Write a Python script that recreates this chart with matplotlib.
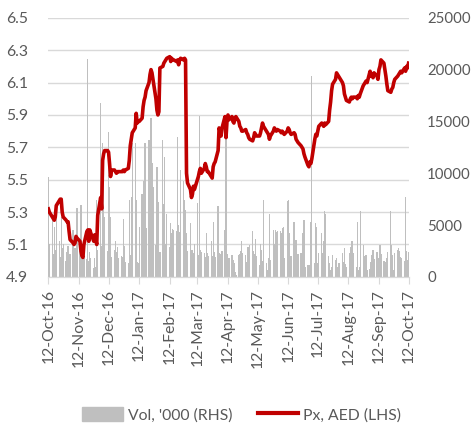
import pandas as pd
import matplotlib
matplotlib.use("Agg")
import matplotlib.pyplot as plt
import matplotlib.dates as mdates
from matplotlib.patches import Patch
from matplotlib.lines import Line2D

plt.rcParams['font.family'] = ['Lato', 'DejaVu Sans']

# trading days (Sun-Thu) from 12-Oct-16 to 12-Oct-17
dates = pd.bdate_range('2016-10-12', '2017-10-12', freq='C', weekmask='Sun Mon Tue Wed Thu')

# price, AED (one row per week)
px = [
    5.32, 5.30,
    5.27, 5.26, 5.25, 5.27, 5.34,
    5.37, 5.38, 5.38, 5.30, 5.27,
    5.25, 5.24, 5.24, 5.18, 5.13,
    5.11, 5.10, 5.11, 5.15, 5.14,
    5.12, 5.06, 5.03, 5.02, 5.10,
    5.18, 5.19, 5.12, 5.19, 5.17,
    5.12, 5.16, 5.13, 5.10, 5.28,
    5.39, 5.32, 5.62, 5.66, 5.68,
    5.68, 5.67, 5.60, 5.52, 5.56,
    5.56, 5.55, 5.54, 5.55, 5.55,
    5.55, 5.55, 5.56, 5.55, 5.56,
    5.57, 5.62, 5.71, 5.75, 5.79,
    5.82, 5.91, 5.85, 5.86, 5.86,
    5.88, 5.95, 5.99, 6.01, 6.05,
    6.10, 6.15, 6.18, 6.16, 6.12,
    6.00, 5.93, 5.90, 5.92, 6.19,
    6.20, 6.22, 6.23, 6.24, 6.25,
    6.26, 6.23, 6.25, 6.24, 6.24,
    6.23, 6.24, 6.21, 6.24, 6.25,
    6.24, 6.25, 6.24, 5.54, 5.48,
    5.44, 5.39, 5.41, 5.46, 5.44,
    5.50, 5.52, 5.55, 5.57, 5.54,
    5.57, 5.60, 5.58, 5.55, 5.55,
    5.52, 5.51, 5.58, 5.60, 5.61,
    5.68, 5.82, 5.80, 5.77, 5.82,
    5.89, 5.76, 5.86, 5.90, 5.87,
    5.89, 5.86, 5.85, 5.88, 5.89,
    5.86, 5.83, 5.82, 5.80, 5.80,
    5.81, 5.79, 5.78, 5.76, 5.75,
    5.74, 5.76, 5.79, 5.78, 5.77,
    5.77, 5.79, 5.82, 5.85, 5.83,
    5.80, 5.79, 5.78, 5.75, 5.77,
    5.80, 5.82, 5.81, 5.80, 5.81,
    5.80, 5.79, 5.80, 5.79, 5.78,
    5.80, 5.82, 5.81, 5.79, 5.78,
    5.79, 5.78, 5.75, 5.74, 5.73,
    5.71, 5.70, 5.69, 5.66, 5.64,
    5.59, 5.58, 5.61, 5.60, 5.63,
    5.75, 5.78, 5.77, 5.80, 5.83,
    5.85, 5.84, 5.83, 5.85, 5.84,
    5.86, 5.93, 5.98, 6.05, 6.09,
    6.12, 6.16, 6.15, 6.14, 6.13,
    6.10, 6.08, 6.03, 6.01, 5.99,
    5.98, 6.00, 6.01, 6.00, 6.01,
    6.01, 6.00, 6.02, 6.01, 6.03,
    6.08, 6.09, 6.10, 6.11, 6.10,
    6.17, 6.14, 6.15, 6.13, 6.16,
    6.14, 6.12, 6.18, 6.20, 6.24,
    6.22, 6.18, 6.14, 6.09, 6.05,
    6.04, 6.06, 6.07, 6.10, 6.12,
    6.14, 6.15, 6.16, 6.17, 6.16,
    6.19, 6.17, 6.20, 6.19, 6.22,
]

# volume, '000
vol = [
    9600, 3200,
    5500, 2200, 4800, 2600, 5800,
    3500, 1900, 5800, 2800, 3200,
    1500, 2400, 3000, 1800, 2200,
    4500, 1500, 2800, 1200, 6600,
    2500, 6900, 1500, 2200, 2800,
    1700, 21000, 1500, 2400, 1800,
    900, 1800, 1000, 7400, 2600,
    16800, 3000, 12900, 11000, 5800,
    2500, 14000, 8700, 5800, 1900,
    2600, 3500, 2400, 2900, 1800,
    2000, 1900, 5600, 3000, 1400,
    1300, 7400, 2100, 7700, 12900,
    12900, 7400, 1400, 1300, 4800,
    8000, 6200, 9300, 12900, 4700,
    13200, 9000, 15300, 11000, 8700,
    3100, 10600, 7200, 300, 2400,
    13200, 7000, 11600, 3200, 6100,
    2900, 5200, 4200, 4600, 4500,
    4400, 13500, 5000, 4300, 10300,
    9300, 7400, 6500, 4200, 2500,
    5200, 2600, 2600, 2300, 3200,
    7100, 2100, 15500, 2600, 2400,
    2300, 1900, 4200, 2300, 2000,
    3500, 2000, 5300, 2400, 1900,
    6800, 2300, 2200, 1500, 2500,
    4500, 15300, 2200, 1600, 1800,
    2100, 1600, 1300, 500, 200,
    2100, 2200, 2500, 3500, 2300,
    2100, 1400, 2900, 2900, 3100,
    4400, 2500, 2200, 3700, 2000,
    1100, 3200, 2600, 1500, 7400,
    1300, 700, 1800, 6100, 1600,
    4500, 3200, 4500, 4300, 4400,
    4400, 4200, 4700, 4800, 1800,
    7300, 7400, 4200, 1800, 2000,
    5300, 2200, 3600, 1000, 2200,
    2300, 1000, 4200, 5500, 1000,
    1100, 1000, 1100, 5300, 19400,
    1300, 5200, 4800, 1300, 2300,
    4200, 2300, 3500, 6400, 6100,
    2000, 1300, 700, 1000, 2100,
    1600, 1800, 1000, 1300, 1300,
    2300, 1400, 2800, 1200, 1000,
    2300, 2900, 3500, 3500, 2300,
    1000, 5300, 700, 1000, 6400,
    3100, 2000, 1900, 2100, 700,
    800, 1400, 2100, 2600, 1700,
    2400, 800, 1800, 3100, 2200,
    1500, 1200, 1400, 1800, 2400,
    6400, 3100, 2100, 700, 2300,
    2600, 2800, 2500, 1900, 1800,
    1500, 7700, 2500, 1600, 2400,
]

px_ticks = [4.9, 5.1, 5.3, 5.5, 5.7, 5.9, 6.1, 6.3, 6.5]
vol_ticks = [0, 5000, 10000, 15000, 20000, 25000]
month_ticks = pd.date_range('2016-10-01', '2017-10-01', freq='MS') + pd.Timedelta(days=11)

grey_txt = '#595959'
grid_c = '#D9D9D9'

fig = plt.figure(figsize=(4.74, 4.24), dpi=100)
ax_vol = fig.add_axes([0.101, 0.347, 0.762, 0.611])
ax_px = ax_vol.twinx()
ax_px.set_zorder(ax_vol.get_zorder() + 1)
ax_px.patch.set_visible(False)

ax_vol.bar(dates, vol, width=1.3, color='#BFBFBF', zorder=2)
ax_vol.set_ylim(0, 25000)
ax_px.set_ylim(4.9, 6.5)

# horizontal gridlines behind the bars, at the price ticks
for p in px_ticks:
    v = (p - px_ticks[0]) / (px_ticks[-1] - px_ticks[0]) * 25000
    ax_vol.axhline(v, color=grid_c, lw=1.0, zorder=0)

ax_px.plot(dates, px, color='#C00000', lw=2.6, solid_joinstyle='round', zorder=3)

x0 = dates[0] - pd.Timedelta(days=0.5)
x1 = dates[-1] + pd.Timedelta(days=0.5)
ax_vol.set_xlim(x0, x1)

# axes: price on the left, volume on the right
ax_vol.yaxis.tick_right()
ax_px.yaxis.tick_left()
ax_vol.set_yticks(vol_ticks)
ax_px.set_yticks(px_ticks)
ax_px.set_yticklabels([f'{p:.1f}' for p in px_ticks])
ax_vol.tick_params(axis='y', length=0, pad=13, labelsize=10.8, labelcolor=grey_txt)
ax_px.tick_params(axis='y', length=0, pad=14, labelsize=11.3, labelcolor=grey_txt)

ax_vol.set_xticks(month_ticks)
ax_vol.xaxis.set_major_formatter(mdates.DateFormatter('%d-%b-%y'))
ax_vol.tick_params(axis='x', length=5, color=grid_c, pad=4, labelsize=11.3,
                   labelcolor=grey_txt, labelrotation=90)

for a in (ax_vol, ax_px):
    for s in ('top', 'left', 'right'):
        a.spines[s].set_visible(False)
    a.spines['bottom'].set_color(grid_c)

handles = [Patch(color='#BFBFBF', label="Vol, '000 (RHS)"),
           Line2D([0], [0], color='#C00000', lw=3, label='Px, AED (LHS)')]
fig.legend(handles=handles, loc='lower center', bbox_to_anchor=(0.51, -0.03), ncol=2,
           frameon=False, fontsize=11.3, labelcolor=grey_txt, handlelength=2.6,
           handleheight=1.0, columnspacing=1.6, handletextpad=0.3)

fig.savefig('out.png', dpi=100)
